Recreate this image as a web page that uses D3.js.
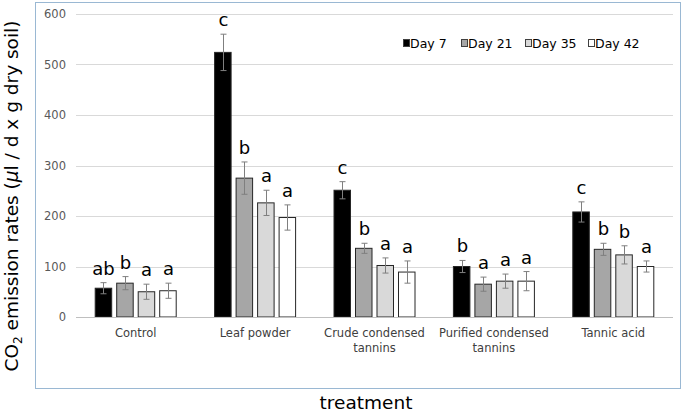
<!DOCTYPE html>
<html><head><meta charset="utf-8">
<script src="https://cdn.jsdelivr.net/npm/d3@7"></script>
<style>body{margin:0;background:#fff}svg{display:block}text{font-family:"DejaVu Sans",Verdana,sans-serif}</style>
</head><body>
<svg id="c" width="685" height="413"></svg>
<script>
const categories = [["Control"],["Leaf powder"],["Crude condensed","tannins"],["Purified condensed","tannins"],["Tannic acid"]];
const series = ["Day 7","Day 21","Day 35","Day 42"];
const colors = ["#000000","#a6a6a6","#d9d9d9","#ffffff"];
const day7  = [57, 524, 251, 100, 208];
const day21 = [67, 275, 136, 65, 134];
const day35 = [50, 226, 102, 71, 123];
const day42 = [52, 197, 89, 71, 100];
const err7  = [11, 36, 17, 12, 20];
const err21 = [13, 32, 10, 14, 12];
const err35 = [15, 25, 15, 14, 18];
const err42 = [15, 25, 22, 19, 11];
const let7  = ["ab","c","c","b","c"];
const let21 = ["b","b","b","a","b"];
const let35 = ["a","a","a","a","b"];
const let42 = ["a","a","a","a","a"];
const yTicks = [0,100,200,300,400,500,600];

const vals=[day7,day21,day35,day42], errs=[err7,err21,err35,err42], lets=[let7,let21,let35,let42];
const svg=d3.select("#c");
// outer box
svg.append("rect").attr("x",35.5).attr("y",2.5).attr("width",645).attr("height",386).attr("fill","none").attr("stroke","#9ab8d3").attr("stroke-width",1);

const L=76,R=673,T=14,B=317;
const y=d3.scaleLinear().domain([0,600]).range([B,T]);
const x0=d3.scaleBand().domain(d3.range(categories.length)).range([L,R]).padding(0);
const gw=x0.bandwidth();
const x1=d3.scaleBand().domain(d3.range(series.length)).range([(gw-82)/2,(gw+82)/2]).paddingInner(0.186).paddingOuter(0);

// grid
svg.append("g").selectAll("line").data(yTicks.filter(d=>d>0)).join("line")
 .attr("x1",L).attr("x2",R).attr("y1",d=>Math.round(y(d))+0.5).attr("y2",d=>Math.round(y(d))+0.5)
 .attr("stroke","#d9d9d9").attr("stroke-width",1);
// y axis labels
const ya=d3.axisLeft(y).tickValues(yTicks).tickSize(0).tickPadding(10);
const yg=svg.append("g").attr("transform",`translate(${L},0)`).call(ya);
yg.select(".domain").remove();
yg.selectAll("text").attr("font-size","11.5px").attr("fill","#595959").attr("font-family","DejaVu Sans, Verdana, sans-serif");

// bars
const data=[];
categories.forEach((c,i)=>series.forEach((s,j)=>data.push({i,j,v:vals[j][i],e:errs[j][i],l:lets[j][i]})));
const g=svg.append("g");
g.selectAll("rect").data(data).join("rect")
 .attr("x",d=>x0(d.i)+x1(d.j)+0.5).attr("y",d=>y(d.v))
 .attr("width",x1.bandwidth()-1).attr("height",d=>B-y(d.v))
 .attr("fill",d=>colors[d.j]).attr("stroke","#262626").attr("stroke-width",1);
// error bars
const cx=d=>Math.round(x0(d.i)+x1(d.j)+x1.bandwidth()/2)+0.5;
const eb=svg.append("g").attr("stroke","#7f7f7f").attr("stroke-width",1);
eb.selectAll(".v").data(data).join("line").attr("x1",cx).attr("x2",cx).attr("y1",d=>y(d.v+d.e)).attr("y2",d=>y(d.v-d.e));
eb.selectAll(".t").data(data).join("line").attr("x1",d=>cx(d)-3).attr("x2",d=>cx(d)+3).attr("y1",d=>y(d.v+d.e)).attr("y2",d=>y(d.v+d.e));
eb.selectAll(".b").data(data).join("line").attr("x1",d=>cx(d)-3).attr("x2",d=>cx(d)+3).attr("y1",d=>y(d.v-d.e)).attr("y2",d=>y(d.v-d.e));
// letters
svg.append("g").selectAll("text").data(data).join("text")
 .attr("x",d=>cx(d)).attr("y",d=>y(d.v+d.e)-8).attr("text-anchor","middle")
 .attr("font-size","18px").attr("fill","#000").text(d=>d.l);

// x axis line
svg.append("line").attr("x1",L).attr("x2",R).attr("y1",B+0.5).attr("y2",B+0.5).attr("stroke","#bfbfbf");
// category labels
const cl=svg.append("g").selectAll("text").data(categories).join("text")
 .attr("x",(d,i)=>x0(i)+gw/2).attr("y",337).attr("text-anchor","middle")
 .attr("font-size","11.5px").attr("fill","#404040");
cl.selectAll("tspan").data(d=>d).join("tspan").attr("x",function(){return this.parentNode.getAttribute("x");})
 .attr("dy",(d,k)=>k?15:0).text(d=>d);

// legend
const lx=[403,461,525,588];
const lg=svg.append("g").selectAll("g").data(series).join("g").attr("transform",(d,j)=>`translate(${lx[j]},43)`);
lg.append("rect").attr("x",0.5).attr("y",-3.5).attr("width",6).attr("height",7).attr("fill",(d,j)=>colors[j]).attr("stroke","#404040");
lg.append("text").attr("x",7).attr("y",4.5).attr("font-size","12.5px").attr("fill","#000").text(d=>d);

// axis titles
svg.append("text").attr("x",366).attr("y",409).attr("text-anchor","middle").attr("font-size","18.5px").attr("fill","#000").text("treatment");
const yt=svg.append("text").attr("transform","translate(18,196) rotate(-90)").attr("text-anchor","middle").attr("font-size","18.5px").attr("fill","#000");
yt.append("tspan").text("CO");
yt.append("tspan").attr("font-size","12px").attr("dy",4).text("2");
yt.append("tspan").attr("dy",-4).text(" emission rates (");
yt.append("tspan").attr("font-style","italic").text("μ");
yt.append("tspan").text("l / d x g dry soil)");
</script>
</body></html>
